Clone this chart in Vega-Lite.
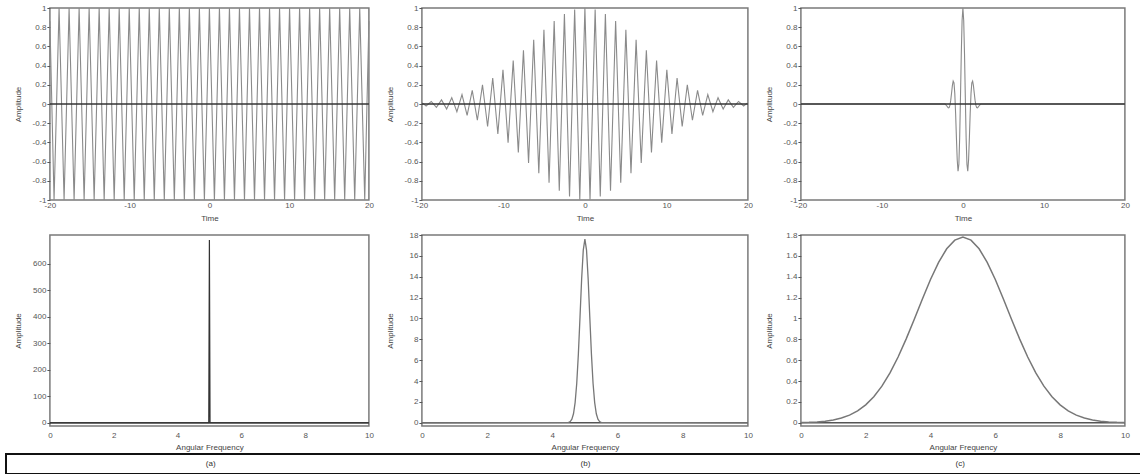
{
  "$schema": "https://vega.github.io/schema/vega-lite/v6.json",
  "background": "white",
  "padding": {"left": 5, "top": 3, "right": 0, "bottom": 0},
  "config": {
    "font": "Liberation Sans",
    "view": {"stroke": "#7a7a7a", "strokeWidth": 1.5},
    "axis": {
      "labelFont": "Liberation Sans", "labelFontSize": 8, "labelColor": "#555",
      "titleFont": "Liberation Sans", "titleFontSize": 8, "titleFontWeight": "normal", "titleColor": "#444",
      "domain": false, "grid": false, "labelFlush": false, "labelOverlap": false, "labelBound": false,
      "tickColor": "#555", "tickSize": 3,
      "labelExpr": "replace(format(datum.value, '.1~f'), '\u2212', '-')"
    },
    "axisX": {"ticks": false, "labelPadding": 1, "titlePadding": 5},
    "axisY": {"labelPadding": 1, "minExtent": 22, "maxExtent": 22, "titlePadding": 5}
  },
  "datasets": {
    "a_t": [
      {"t": -20, "v": 0.862},
      {"t": -19.478, "v": -1}, {"t": -18.85, "v": 1}, {"t": -18.221, "v": -1}, {"t": -17.593, "v": 1},
      {"t": -16.965, "v": -1}, {"t": -16.336, "v": 1}, {"t": -15.708, "v": -1}, {"t": -15.08, "v": 1},
      {"t": -14.451, "v": -1}, {"t": -13.823, "v": 1}, {"t": -13.195, "v": -1}, {"t": -12.566, "v": 1},
      {"t": -11.938, "v": -1}, {"t": -11.31, "v": 1}, {"t": -10.681, "v": -1}, {"t": -10.053, "v": 1},
      {"t": -9.425, "v": -1}, {"t": -8.796, "v": 1}, {"t": -8.168, "v": -1}, {"t": -7.54, "v": 1},
      {"t": -6.912, "v": -1}, {"t": -6.283, "v": 1}, {"t": -5.655, "v": -1}, {"t": -5.027, "v": 1},
      {"t": -4.398, "v": -1}, {"t": -3.77, "v": 1}, {"t": -3.142, "v": -1}, {"t": -2.513, "v": 1},
      {"t": -1.885, "v": -1}, {"t": -1.257, "v": 1}, {"t": -0.628, "v": -1}, {"t": 0, "v": 1},
      {"t": 0.628, "v": -1}, {"t": 1.257, "v": 1}, {"t": 1.885, "v": -1}, {"t": 2.513, "v": 1},
      {"t": 3.142, "v": -1}, {"t": 3.77, "v": 1}, {"t": 4.398, "v": -1}, {"t": 5.027, "v": 1},
      {"t": 5.655, "v": -1}, {"t": 6.283, "v": 1}, {"t": 6.912, "v": -1}, {"t": 7.54, "v": 1},
      {"t": 8.168, "v": -1}, {"t": 8.796, "v": 1}, {"t": 9.425, "v": -1}, {"t": 10.053, "v": 1},
      {"t": 10.681, "v": -1}, {"t": 11.31, "v": 1}, {"t": 11.938, "v": -1}, {"t": 12.566, "v": 1},
      {"t": 13.195, "v": -1}, {"t": 13.823, "v": 1}, {"t": 14.451, "v": -1}, {"t": 15.08, "v": 1},
      {"t": 15.708, "v": -1}, {"t": 16.336, "v": 1}, {"t": 16.965, "v": -1}, {"t": 17.593, "v": 1},
      {"t": 18.221, "v": -1}, {"t": 18.85, "v": 1}, {"t": 19.478, "v": -1},
      {"t": 20, "v": 0.862}
    ],
    "b_t": [
      {"t": -20, "v": 0.015},
      {"t": -19.478, "v": -0.021}, {"t": -18.85, "v": 0.027}, {"t": -18.221, "v": -0.034}, {"t": -17.593, "v": 0.043},
      {"t": -16.965, "v": -0.053}, {"t": -16.336, "v": 0.066}, {"t": -15.708, "v": -0.081}, {"t": -15.08, "v": 0.098},
      {"t": -14.451, "v": -0.119}, {"t": -13.823, "v": 0.142}, {"t": -13.195, "v": -0.169}, {"t": -12.566, "v": 0.2},
      {"t": -11.938, "v": -0.234}, {"t": -11.31, "v": 0.271}, {"t": -10.681, "v": -0.312}, {"t": -10.053, "v": 0.357},
      {"t": -9.425, "v": -0.404}, {"t": -8.796, "v": 0.454}, {"t": -8.168, "v": -0.506}, {"t": -7.54, "v": 0.56},
      {"t": -6.912, "v": -0.614}, {"t": -6.283, "v": 0.668}, {"t": -5.655, "v": -0.722}, {"t": -5.027, "v": 0.773},
      {"t": -4.398, "v": -0.821}, {"t": -3.77, "v": 0.865}, {"t": -3.142, "v": -0.904}, {"t": -2.513, "v": 0.938},
      {"t": -1.885, "v": -0.964}, {"t": -1.257, "v": 0.984}, {"t": -0.628, "v": -0.996}, {"t": 0, "v": 1},
      {"t": 0.628, "v": -0.996}, {"t": 1.257, "v": 0.984}, {"t": 1.885, "v": -0.964}, {"t": 2.513, "v": 0.938},
      {"t": 3.142, "v": -0.904}, {"t": 3.77, "v": 0.865}, {"t": 4.398, "v": -0.821}, {"t": 5.027, "v": 0.773},
      {"t": 5.655, "v": -0.722}, {"t": 6.283, "v": 0.668}, {"t": 6.912, "v": -0.614}, {"t": 7.54, "v": 0.56},
      {"t": 8.168, "v": -0.506}, {"t": 8.796, "v": 0.454}, {"t": 9.425, "v": -0.404}, {"t": 10.053, "v": 0.357},
      {"t": 10.681, "v": -0.312}, {"t": 11.31, "v": 0.271}, {"t": 11.938, "v": -0.234}, {"t": 12.566, "v": 0.2},
      {"t": 13.195, "v": -0.169}, {"t": 13.823, "v": 0.142}, {"t": 14.451, "v": -0.119}, {"t": 15.08, "v": 0.098},
      {"t": 15.708, "v": -0.081}, {"t": 16.336, "v": 0.066}, {"t": 16.965, "v": -0.053}, {"t": 17.593, "v": 0.043},
      {"t": 18.221, "v": -0.034}, {"t": 18.85, "v": 0.027}, {"t": 19.478, "v": -0.021},
      {"t": 20, "v": 0.015}
    ],
    "c_t": [
      {"t": -20, "v": 0}, {"t": -2.5, "v": 0}, {"t": -2.2, "v": 0}, {"t": -2, "v": -0.018},
      {"t": -1.9, "v": -0.031}, {"t": -1.8, "v": -0.04}, {"t": -1.7, "v": -0.037}, {"t": -1.6, "v": -0.012},
      {"t": -1.5, "v": 0.04}, {"t": -1.4, "v": 0.114}, {"t": -1.3, "v": 0.191}, {"t": -1.2, "v": 0.239},
      {"t": -1.1, "v": 0.221}, {"t": -1, "v": 0.108}, {"t": -0.9, "v": -0.097}, {"t": -0.8, "v": -0.353},
      {"t": -0.7, "v": -0.584}, {"t": -0.6, "v": -0.7}, {"t": -0.5, "v": -0.63}, {"t": -0.4, "v": -0.357},
      {"t": -0.3, "v": 0.065}, {"t": -0.2, "v": 0.52}, {"t": -0.1, "v": 0.869}, {"t": 0, "v": 1},
      {"t": 0.1, "v": 0.869}, {"t": 0.2, "v": 0.52}, {"t": 0.3, "v": 0.065}, {"t": 0.4, "v": -0.357},
      {"t": 0.5, "v": -0.63}, {"t": 0.6, "v": -0.7}, {"t": 0.7, "v": -0.584}, {"t": 0.8, "v": -0.353},
      {"t": 0.9, "v": -0.097}, {"t": 1, "v": 0.108}, {"t": 1.1, "v": 0.221}, {"t": 1.2, "v": 0.239},
      {"t": 1.3, "v": 0.191}, {"t": 1.4, "v": 0.114}, {"t": 1.5, "v": 0.04}, {"t": 1.6, "v": -0.012},
      {"t": 1.7, "v": -0.037}, {"t": 1.8, "v": -0.04}, {"t": 1.9, "v": -0.031}, {"t": 2, "v": -0.018},
      {"t": 2.2, "v": 0}, {"t": 2.5, "v": 0}, {"t": 20, "v": 0}
    ],
    "a_f": [
      {"w": 0, "v": 0}, {"w": 4.98, "v": 0}, {"w": 5, "v": 690}, {"w": 5.02, "v": 0}, {"w": 10, "v": 0}
    ],
    "b_f": [
      {"w": 0, "v": 0}, {"w": 4.5, "v": 0.04}, {"w": 4.55, "v": 0.12}, {"w": 4.6, "v": 0.35},
      {"w": 4.65, "v": 0.87}, {"w": 4.7, "v": 1.94}, {"w": 4.75, "v": 3.8}, {"w": 4.8, "v": 6.61},
      {"w": 4.85, "v": 10.14}, {"w": 4.9, "v": 13.78}, {"w": 4.95, "v": 16.55}, {"w": 5, "v": 17.6},
      {"w": 5.05, "v": 16.55}, {"w": 5.1, "v": 13.78}, {"w": 5.15, "v": 10.14}, {"w": 5.2, "v": 6.61},
      {"w": 5.25, "v": 3.8}, {"w": 5.3, "v": 1.94}, {"w": 5.35, "v": 0.87}, {"w": 5.4, "v": 0.35},
      {"w": 5.45, "v": 0.12}, {"w": 5.5, "v": 0.04}, {"w": 10, "v": 0}
    ],
    "c_f": [
      {"w": 0, "v": 0.003}, {"w": 0.25, "v": 0.005}, {"w": 0.5, "v": 0.009}, {"w": 0.75, "v": 0.016},
      {"w": 1, "v": 0.028}, {"w": 1.25, "v": 0.047}, {"w": 1.5, "v": 0.074}, {"w": 1.75, "v": 0.115},
      {"w": 2, "v": 0.173}, {"w": 2.25, "v": 0.251}, {"w": 2.5, "v": 0.352}, {"w": 2.75, "v": 0.479},
      {"w": 3, "v": 0.631}, {"w": 3.25, "v": 0.805}, {"w": 3.5, "v": 0.993}, {"w": 3.75, "v": 1.187},
      {"w": 4, "v": 1.374}, {"w": 4.25, "v": 1.538}, {"w": 4.5, "v": 1.668}, {"w": 4.75, "v": 1.751},
      {"w": 5, "v": 1.78}, {"w": 5.25, "v": 1.751}, {"w": 5.5, "v": 1.668}, {"w": 5.75, "v": 1.538},
      {"w": 6, "v": 1.374}, {"w": 6.25, "v": 1.187}, {"w": 6.5, "v": 0.993}, {"w": 6.75, "v": 0.805},
      {"w": 7, "v": 0.631}, {"w": 7.25, "v": 0.479}, {"w": 7.5, "v": 0.352}, {"w": 7.75, "v": 0.251},
      {"w": 8, "v": 0.173}, {"w": 8.25, "v": 0.115}, {"w": 8.5, "v": 0.074}, {"w": 8.75, "v": 0.047},
      {"w": 9, "v": 0.028}, {"w": 9.25, "v": 0.016}, {"w": 9.5, "v": 0.009}, {"w": 9.75, "v": 0.005},
      {"w": 10, "v": 0.003}
    ],
    "zero": [{"v": 0}],
    "captions": [{"c": "(a)"}, {"c": "(b)"}, {"c": "(c)"}]
  },
  "vconcat": [
    {
      "concat": [
        {
          "width": 319, "height": 192,
          "layer": [
            {"data": {"name": "a_t"}, "mark": {"type": "line", "color": "#8a8a8a", "strokeWidth": 1.1},
             "encoding": {
               "x": {"field": "t", "type": "quantitative", "scale": {"domain": [-20, 20], "nice": false}, "axis": {"title": "Time", "values": [-20, -10, 0, 10, 20], "tickCount": 40, "labelOverlap": false}},
               "y": {"field": "v", "type": "quantitative", "scale": {"domain": [-1, 1], "nice": false}, "axis": {"title": "Amplitude", "values": [-1, -0.8, -0.6, -0.4, -0.2, 0, 0.2, 0.4, 0.6, 0.8, 1], "tickCount": 40, "labelOverlap": false}}
             }},
            {"data": {"name": "zero"}, "mark": {"type": "rule", "color": "#333", "strokeWidth": 1.5},
             "encoding": {"y": {"field": "v", "type": "quantitative"}}}
          ]
        },
        {
          "width": 326, "height": 192,
          "layer": [
            {"data": {"name": "b_t"}, "mark": {"type": "line", "color": "#8a8a8a", "strokeWidth": 1.1},
             "encoding": {
               "x": {"field": "t", "type": "quantitative", "scale": {"domain": [-20, 20], "nice": false}, "axis": {"title": "Time", "values": [-20, -10, 0, 10, 20], "tickCount": 40, "labelOverlap": false}},
               "y": {"field": "v", "type": "quantitative", "scale": {"domain": [-1, 1], "nice": false}, "axis": {"title": "Amplitude", "values": [-1, -0.8, -0.6, -0.4, -0.2, 0, 0.2, 0.4, 0.6, 0.8, 1], "tickCount": 40, "labelOverlap": false}}
             }},
            {"data": {"name": "zero"}, "mark": {"type": "rule", "color": "#333", "strokeWidth": 1.5},
             "encoding": {"y": {"field": "v", "type": "quantitative"}}}
          ]
        },
        {
          "width": 324, "height": 192,
          "layer": [
            {"data": {"name": "c_t"}, "mark": {"type": "line", "color": "#8a8a8a", "strokeWidth": 1.1},
             "encoding": {
               "x": {"field": "t", "type": "quantitative", "scale": {"domain": [-20, 20], "nice": false}, "axis": {"title": "Time", "values": [-20, -10, 0, 10, 20], "tickCount": 40, "labelOverlap": false}},
               "y": {"field": "v", "type": "quantitative", "scale": {"domain": [-1, 1], "nice": false}, "axis": {"title": "Amplitude", "values": [-1, -0.8, -0.6, -0.4, -0.2, 0, 0.2, 0.4, 0.6, 0.8, 1], "tickCount": 40, "labelOverlap": false}}
             }},
            {"data": {"name": "zero"}, "mark": {"type": "rule", "color": "#333", "strokeWidth": 1.5},
             "encoding": {"y": {"field": "v", "type": "quantitative"}}}
          ]
        },
        {
          "width": 319, "height": 191,
          "layer": [
            {"data": {"name": "zero"}, "mark": {"type": "rule", "color": "#555", "strokeWidth": 1.5},
             "encoding": {"y": {"field": "v", "type": "quantitative", "scale": {"domain": [-12, 709], "nice": false}, "axis": {"title": "Amplitude", "values": [0, 100, 200, 300, 400, 500, 600], "tickCount": 40, "labelOverlap": false}}}},
            {"data": {"name": "a_f"}, "mark": {"type": "line", "color": "#333", "strokeWidth": 1.2},
             "encoding": {
               "x": {"field": "w", "type": "quantitative", "scale": {"domain": [0, 10], "nice": false}, "axis": {"title": "Angular Frequency", "values": [0, 2, 4, 6, 8, 10], "tickCount": 40, "labelOverlap": false, "labelPadding": 5, "titlePadding": 4}},
               "y": {"field": "v", "type": "quantitative"}
             }}
          ]
        },
        {
          "width": 326, "height": 191,
          "layer": [
            {"data": {"name": "zero"}, "mark": {"type": "rule", "color": "#555", "strokeWidth": 1.5},
             "encoding": {"y": {"field": "v", "type": "quantitative", "scale": {"domain": [-0.3, 18], "nice": false}, "axis": {"title": "Amplitude", "values": [0, 2, 4, 6, 8, 10, 12, 14, 16, 18], "tickCount": 40, "labelOverlap": false}}}},
            {"data": {"name": "b_f"}, "mark": {"type": "line", "color": "#777", "strokeWidth": 1.3},
             "encoding": {
               "x": {"field": "w", "type": "quantitative", "scale": {"domain": [0, 10], "nice": false}, "axis": {"title": "Angular Frequency", "values": [0, 2, 4, 6, 8, 10], "tickCount": 40, "labelOverlap": false, "labelPadding": 5, "titlePadding": 4}},
               "y": {"field": "v", "type": "quantitative"}
             }}
          ]
        },
        {
          "width": 324, "height": 191,
          "layer": [
            {"data": {"name": "zero"}, "mark": {"type": "rule", "color": "#555", "strokeWidth": 1.5},
             "encoding": {"y": {"field": "v", "type": "quantitative", "scale": {"domain": [-0.03, 1.8], "nice": false}, "axis": {"title": "Amplitude", "values": [0, 0.2, 0.4, 0.6, 0.8, 1, 1.2, 1.4, 1.6, 1.8], "tickCount": 40, "labelOverlap": false}}}},
            {"data": {"name": "c_f"}, "mark": {"type": "line", "color": "#777", "strokeWidth": 1.5},
             "encoding": {
               "x": {"field": "w", "type": "quantitative", "scale": {"domain": [0, 10], "nice": false}, "axis": {"title": "Angular Frequency", "values": [0, 2, 4, 6, 8, 10], "tickCount": 40, "labelOverlap": false, "labelPadding": 5, "titlePadding": 4}},
               "y": {"field": "v", "type": "quantitative"}
             }}
          ]
        }
      ],
      "columns": 3,
      "spacing": {"row": 35, "column": 53},
      "bounds": "flush"
    },
    {
      "width": 1167, "height": 20,
      "view": {"stroke": "#111", "strokeWidth": 2},
      "data": {"name": "captions"},
      "mark": {"type": "text", "fontSize": 8, "dx": -4, "color": "#333"},
      "encoding": {
        "x": {"field": "c", "type": "nominal", "axis": null, "scale": {"type": "point", "padding": 0.557}},
        "text": {"field": "c"}
      }
    }
  ],
  "spacing": 1,
  "center": true
}
